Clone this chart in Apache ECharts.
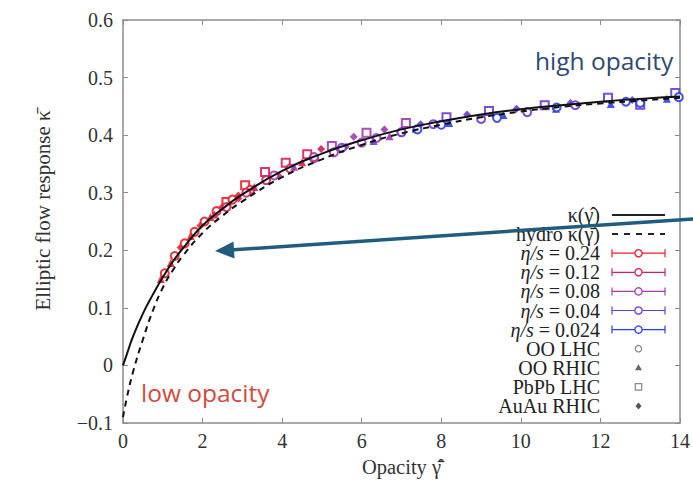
<!DOCTYPE html>
<html>
<head>
<meta charset="utf-8">
<script src="https://cdn.jsdelivr.net/npm/echarts@6/dist/echarts.min.js"></script>
<style>
    html, body { margin: 0; padding: 0; background: #fff; }
    #chart { width: 693px; height: 483px; }
</style>
</head>
<body>
<div id="chart"></div>
<script>
// curves sampled along the opacity axis
const curveGamma = [0, 0.1, 0.25, 0.5, 0.75, 1, 1.25, 1.5, 2, 2.5, 3, 4, 5, 6, 7, 8, 9, 10, 11, 12, 13, 14];
const kappaFit = [0, 0.02, 0.05, 0.09, 0.123, 0.153, 0.18, 0.203, 0.243, 0.272, 0.297, 0.338, 0.368, 0.391, 0.41, 0.424, 0.436, 0.445, 0.452, 0.458, 0.463, 0.467];
const kappaHydro = [-0.09, -0.055, -0.012, 0.045, 0.095, 0.135, 0.165, 0.19, 0.23, 0.26, 0.285, 0.327, 0.358, 0.383, 0.403, 0.418, 0.431, 0.441, 0.449, 0.455, 0.46, 0.465];

// simulation points: [opacity, kappa, system] ; system 0 OO LHC, 1 OO RHIC, 2 PbPb LHC, 3 AuAu RHIC
const eta024 = [[0.95, 0.15, 1], [1.05, 0.16, 0], [1.2, 0.178, 1], [1.3, 0.19, 0], [1.45, 0.205, 3], [1.55, 0.212, 0], [1.7, 0.225, 1], [1.8, 0.232, 0], [1.95, 0.243, 3], [2.05, 0.25, 0], [2.2, 0.258, 1], [2.35, 0.268, 0], [2.5, 0.275, 3], [2.6, 0.284, 2], [2.75, 0.288, 0], [2.9, 0.295, 3], [3.07, 0.313, 2], [3.2, 0.305, 0]];
const eta012 = [[2.3, 0.262, 1], [2.6, 0.275, 0], [2.9, 0.29, 3], [3.1, 0.3, 0], [3.3, 0.31, 1], [3.57, 0.336, 2], [3.6, 0.322, 0], [3.9, 0.33, 3], [4.09, 0.352, 2], [4.2, 0.342, 0], [4.5, 0.353, 1], [4.63, 0.367, 2], [4.98, 0.376, 3], [4.8, 0.36, 0]];
const eta008 = [[3.8, 0.33, 0], [4.3, 0.345, 1], [4.8, 0.362, 0], [5.25, 0.381, 2], [5.3, 0.37, 0], [5.6, 0.38, 3], [5.8, 0.397, 3], [6.0, 0.387, 0], [6.12, 0.404, 2], [6.37, 0.395, 0], [6.57, 0.41, 3], [6.7, 0.398, 1], [7.11, 0.421, 2], [7.0, 0.405, 0]];
const eta004 = [[5.5, 0.378, 0], [6.3, 0.39, 1], [7.0, 0.405, 0], [7.48, 0.419, 3], [7.8, 0.419, 0], [8.13, 0.431, 2], [8.65, 0.436, 3], [9.0, 0.428, 0], [9.2, 0.442, 2], [9.89, 0.446, 3], [10.16, 0.44, 0], [10.6, 0.452, 2], [11.25, 0.456, 3], [11.37, 0.452, 0], [12.19, 0.465, 2], [12.8, 0.461, 3], [13.0, 0.453, 2], [13.88, 0.473, 2]];
const eta0024 = [[7.36, 0.411, 1], [7.4, 0.41, 0], [8.2, 0.421, 1], [8.0, 0.418, 0], [9.56, 0.435, 1], [9.4, 0.43, 0], [10.88, 0.446, 1], [10.9, 0.448, 0], [12.26, 0.454, 1], [12.64, 0.458, 0], [13.0, 0.456, 0], [13.67, 0.463, 1], [13.97, 0.466, 0]];

const xTicks = [0, 2, 4, 6, 8, 10, 12, 14];
const yTicks = [-0.1, 0, 0.1, 0.2, 0.3, 0.4, 0.5, 0.6];

const etaLabels = ["0.24", "0.12", "0.08", "0.04", "0.024"];
const etaColors = ["#e8202a", "#d4205a", "#a23cb0", "#6a3cd2", "#2e3ee6"];
const etaData = [eta024, eta012, eta008, eta004, eta0024];
const systemNames = ["OO LHC", "OO RHIC", "PbPb LHC", "AuAu RHIC"];
const systemSymbols = ["emptyCircle", "triangle", "emptyRect", "diamond"];

const serif = "Liberation Serif";
const axisGray = "#8c8c8c";
const tickRich = { s: { fontFamily: serif, fontSize: 20, color: "#333" } };

const curvePairs = (ys) => curveGamma.map((g, i) => [g, ys[i]]);

const series = etaData.map((pts, k) => ({
    name: "eta " + etaLabels[k],
    type: "scatter",
    z: 2,
    data: pts,
    symbol: (val) => systemSymbols[val[2]],
    symbolSize: 8,
    itemStyle: {
        color: etaColors[k],
        borderWidth: 1.8,
        opacity: 0.9,
    },
}));

series.push({
    name: "kappa fit",
    type: "line",
    z: 4,
    smooth: true,
    showSymbol: false,
    data: curvePairs(kappaFit),
    lineStyle: { color: "#111", width: 2 },
});
series.push({
    name: "hydro kappa",
    type: "line",
    z: 3,
    smooth: true,
    showSymbol: false,
    data: curvePairs(kappaHydro),
    lineStyle: { color: "#111", width: 2, type: [6, 5] },
});

// legend drawn on the right, text right-aligned with icons after it
const legendX = 600, iconL = 612, iconR = 665, rowY0 = 215, rowStep = 19.1;
const legendItems = [];
const rowLabels = ["κ(γ̂)", "hydro κ(γ̄)"]
    .concat(etaLabels.map((l) => "{it|η/s} = " + l))
    .concat(systemNames);
rowLabels.forEach((txt, i) => {
    const y = rowY0 + i * rowStep;
    legendItems.push({
        type: "text",
        x: legendX,
        y: y,
        style: {
            text: txt,
            align: "right",
            verticalAlign: "middle",
            fontFamily: serif,
            fontSize: 20,
            lineHeight: 17,
            fill: "#222",
            rich: { it: { fontStyle: "italic", fontFamily: serif, fontSize: 20, lineHeight: 17, fill: "#222" } },
        },
    });
    const mid = (iconL + iconR) / 2;
    if (i === 0 || i === 1) {
        legendItems.push({
            type: "line",
            shape: { x1: iconL, y1: y, x2: iconR, y2: y },
            style: i === 1 ? { stroke: "#222", lineWidth: 2, lineDash: [6, 6] } : { stroke: "#222", lineWidth: 2 },
        });
    } else if (i < 7) {
        const c = etaColors[i - 2];
        legendItems.push({ type: "line", shape: { x1: iconL, y1: y, x2: iconR, y2: y }, style: { stroke: c, lineWidth: 1.2 } });
        legendItems.push({ type: "line", shape: { x1: iconL, y1: y - 4, x2: iconL, y2: y + 4 }, style: { stroke: c, lineWidth: 1.2 } });
        legendItems.push({ type: "line", shape: { x1: iconR, y1: y - 4, x2: iconR, y2: y + 4 }, style: { stroke: c, lineWidth: 1.2 } });
        legendItems.push({ type: "circle", shape: { cx: mid, cy: y, r: 3.6 }, style: { fill: "#fff", stroke: c, lineWidth: 1.3 } });
    } else {
        const s = i - 7;
        const g = "#888";
        if (s === 0) {
            legendItems.push({ type: "circle", shape: { cx: mid, cy: y, r: 3.2 }, style: { fill: "#fff", stroke: g, lineWidth: 1.2 } });
        } else if (s === 1) {
            legendItems.push({ type: "polygon", shape: { points: [[mid, y - 3.5], [mid + 3.5, y + 2.5], [mid - 3.5, y + 2.5]] }, style: { fill: "#666" } });
        } else if (s === 2) {
            legendItems.push({ type: "rect", shape: { x: mid - 3.2, y: y - 3.2, width: 6.4, height: 6.4 }, style: { fill: "#fff", stroke: g, lineWidth: 1.2 } });
        } else {
            legendItems.push({ type: "polygon", shape: { points: [[mid, y - 3.5], [mid + 3, y], [mid, y + 3.5], [mid - 3, y]] }, style: { fill: "#555" } });
        }
    }
});

// arrow annotation pointing at the curve
const arrow = [
    { type: "line", z: 100, shape: { x1: 700, y1: 218.5, x2: 230, y2: 250 }, style: { stroke: "#1f5c7e", lineWidth: 3.5 } },
    { type: "polygon", z: 100, shape: { points: [[215, 251], [234.5, 258.5], [233.5, 241.5]] }, style: { fill: "#1f5c7e" } },
];

const notes = [
    { type: "text", x: 535, y: 60, style: { text: "high opacity", fontFamily: "Open Sans", fontSize: 24.5, fill: "#2e4a6e", verticalAlign: "middle" } },
    { type: "text", x: 141, y: 392, style: { text: "low opacity", fontFamily: "Open Sans", fontSize: 24.5, fill: "#d24a3c", verticalAlign: "middle" } },
];

const fmtY = (v) => {
    const r = Math.round(v * 10) / 10;
    const s = r === 0 ? "0" : (r < 0 ? "\u2212" : "") + Math.abs(r).toFixed(1);
    return "{s|" + s + "}";
};
const fmtX = (v) => "{s|" + v + "}";

const baseAxis = {
    axisLine: { show: true, onZero: false, lineStyle: { color: axisGray, width: 1.5 } },
    axisTick: { show: true, inside: true, length: 5, lineStyle: { color: axisGray } },
    splitLine: { show: false },
};

const option = {
    backgroundColor: "#fff",
    animation: false,
    textStyle: { fontFamily: serif },
    grid: { left: 123, top: 20, right: 5, bottom: 60 },
    xAxis: [
        Object.assign({}, baseAxis, {
            type: "value",
            min: xTicks[0],
            max: xTicks[xTicks.length - 1],
            interval: 2,
            axisLabel: { color: "#333", fontFamily: serif, fontSize: 20, margin: 8, formatter: fmtX, rich: tickRich },
            name: "Opacity γ̂̄",
            nameLocation: "middle",
            nameGap: 33,
            nameTextStyle: { color: "#333", fontFamily: serif, fontSize: 20.5 },
        }),
        Object.assign({}, baseAxis, {
            type: "value",
            position: "top",
            min: xTicks[0],
            max: xTicks[xTicks.length - 1],
            interval: 2,
            axisLabel: { show: false },
        }),
    ],
    yAxis: [
        Object.assign({}, baseAxis, {
            type: "value",
            min: yTicks[0],
            max: yTicks[yTicks.length - 1],
            interval: 0.1,
            axisLabel: { color: "#333", fontFamily: serif, fontSize: 20, margin: 10, formatter: fmtY, rich: tickRich },
            name: "Elliptic flow response κ̄",
            nameLocation: "middle",
            nameGap: 70,
            nameTextStyle: { color: "#333", fontFamily: serif, fontSize: 21, padding: [0, 0, 0, 22] },
        }),
        Object.assign({}, baseAxis, {
            type: "value",
            position: "right",
            min: yTicks[0],
            max: yTicks[yTicks.length - 1],
            interval: 0.1,
            axisLabel: { show: false },
        }),
    ],
    graphic: legendItems.concat(notes, arrow),
    series: series,
};

const chart = echarts.init(document.getElementById("chart"), null, { renderer: "svg" });
chart.setOption(option);
</script>
</body>
</html>
